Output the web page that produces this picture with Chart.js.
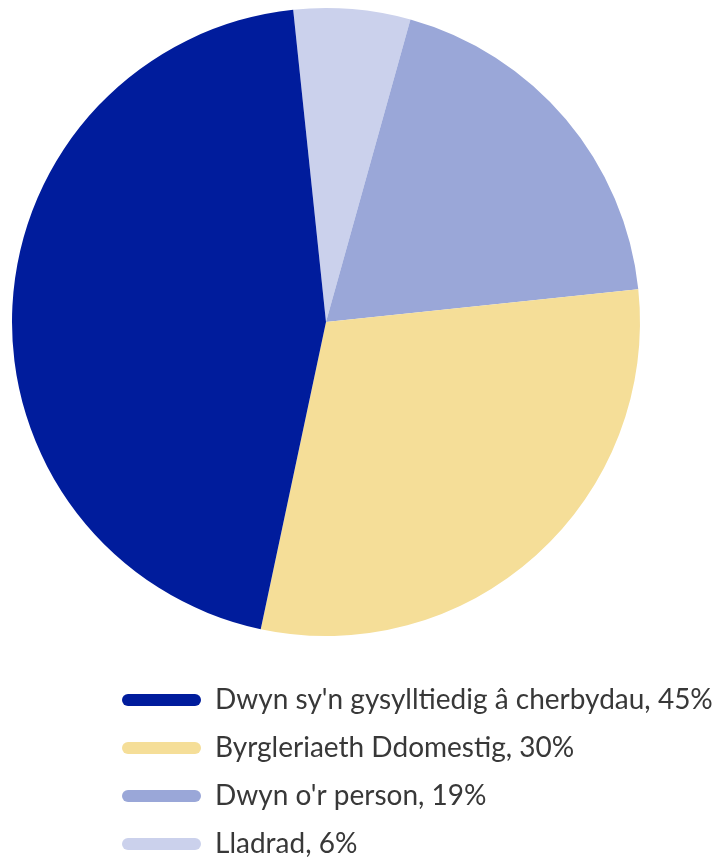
<!DOCTYPE html>
<html>
<head>
<meta charset="utf-8">
<title>Dwyn</title>
<script src="https://cdn.jsdelivr.net/npm/chart.js@4.4.1/dist/chart.umd.min.js"></script>
<style>
  html, body { margin: 0; padding: 0; background: #fff; }
  #wrap { width: 724px; height: 857px; }
</style>
</head>
<body>
<div id="wrap"><canvas id="pieChart"></canvas></div>
<script>
// legend order (as shown in the key)
const categories = [
  "Dwyn sy'n gysylltiedig â cherbydau",
  "Byrgleriaeth Ddomestig",
  "Dwyn o'r person",
  "Lladrad"
];
const values = [45, 30, 19, 6];
const colours = ["#001c9c", "#f5de98", "#9aa7d8", "#cbd1ec"];

// slices run clockwise from Lladrad, so feed them reversed and flip the key back
const labels = categories.map((c, i) => c + ", " + values[i] + "%").reverse();

// nudges the key to where the original had it (legend clips to its own box)
const legendPlace = {
  id: "legendPlace",
  afterLayout(chart) {
    const lg = chart.legend;
    lg.left = 102;
    lg.right = 724;
    lg.width = lg.right - lg.left;
    lg.top = 666;
    lg.bottom = 857;
    lg.height = lg.bottom - lg.top;
  }
};

const ctx = document.getElementById("pieChart").getContext("2d");
const chart = new Chart(ctx, {
  type: "pie",
  data: {
    labels: labels,
    datasets: [{
      data: values.slice().reverse(),
      backgroundColor: colours.slice().reverse(),
      borderWidth: 0
    }]
  },
  options: {
    responsive: true,
    maintainAspectRatio: false,
    animation: false,
    rotation: -6,
    layout: { padding: { left: 12, right: 84, top: 8, bottom: 19 } },
    plugins: {
      legend: {
        display: true,
        position: "bottom",
        align: "start",
        reverse: true,
        labels: {
          boxWidth: 79,
          boxHeight: 12,
          useBorderRadius: true,
          borderRadius: 6,
          padding: 20,
          color: "#383838",
          font: { family: "Lato", size: 28 }
        }
      },
      tooltip: { enabled: false }
    }
  },
  plugins: [legendPlace]
});
</script>
</body>
</html>
